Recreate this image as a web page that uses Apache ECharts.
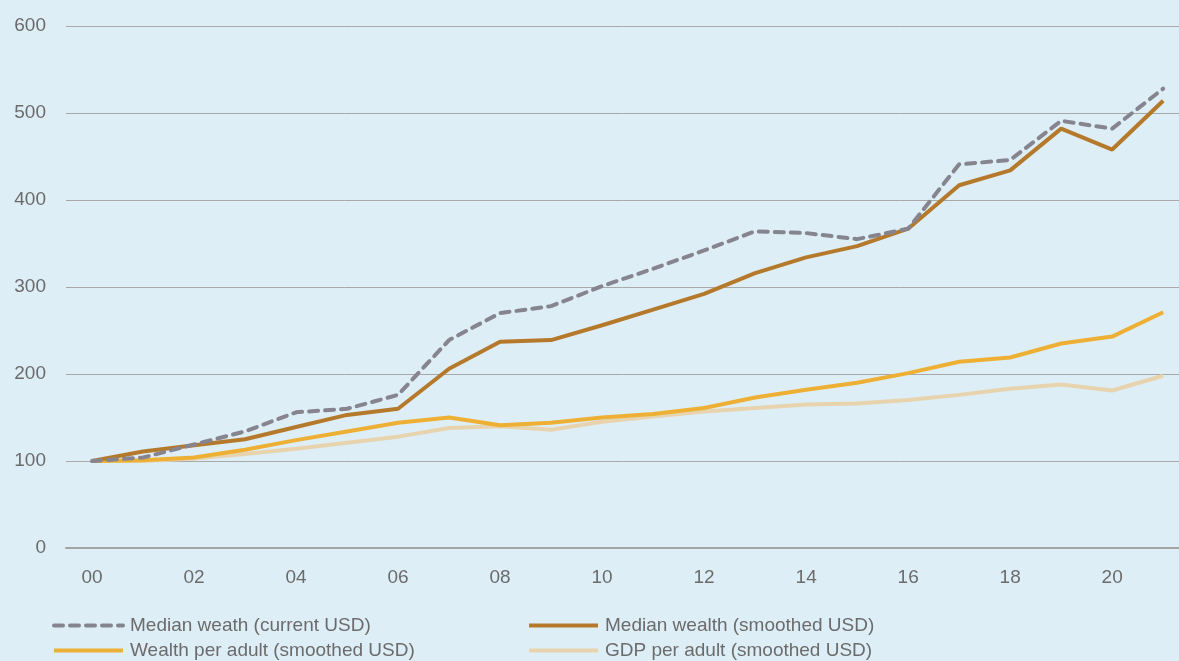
<!DOCTYPE html>
<html>
<head>
<meta charset="utf-8">
<script src="https://cdn.jsdelivr.net/npm/echarts@6/dist/echarts.min.js"></script>
<style>
  html, body { margin: 0; padding: 0; background: #deeef7; }
  #chart { width: 1179px; height: 661px; }
</style>
</head>
<body>
<div id="chart"></div>
<script>
// years 2000..2021, labelled as two digits
const years = ['00','01','02','03','04','05','06','07','08','09','10','11','12','13','14','15','16','17','18','19','20','21'];
const yTicks = [0, 100, 200, 300, 400, 500, 600];
const xLabelYears = [0, 2, 4, 6, 8, 10, 12, 14, 16, 18, 20];

const medianCurrent = [100, 104, 119, 134, 156, 160, 176, 239, 270, 278, 301, 321, 342, 364, 362, 355, 367, 441, 446, 491, 482, 528];
const medianSmoothed = [100, 111, 118, 125, 139, 153, 160, 206, 237, 239, 256, 274, 292, 316, 334, 347, 367, 417, 434, 482, 458, 514];
const wealthPerAdult = [100, 101, 104, 113, 124, 134, 144, 150, 141, 144, 150, 154, 161, 173, 182, 190, 201, 214, 219, 235, 243, 271];
const gdpPerAdult = [100, 100, 103, 108, 114, 121, 128, 138, 140, 136, 145, 151, 157, 161, 165, 166, 170, 176, 183, 188, 181, 198];

const names = ['Median weath (current USD)', 'Median wealth (smoothed USD)', 'Wealth per adult (smoothed USD)', 'GDP per adult (smoothed USD)'];

const chart = echarts.init(document.getElementById('chart'));
const font = 'Liberation Sans, Arial, sans-serif';
const textColor = '#6b6b6b';
const toPairs = arr => arr.map((v, i) => [i, v]);

function lineSeries(name, data, color, extra) {
    return Object.assign({
        name, type: 'line', data: toPairs(data),
        symbol: 'none', smooth: false,
        lineStyle: { color, width: 4 },
        itemStyle: { color },
        z: 2
    }, extra || {});
}

function legendAt(name, left, top) {
    return {
        data: [name], left, top, orient: 'horizontal', padding: 0,
        itemWidth: 69, itemHeight: 14, itemGap: 0,
        itemStyle: { opacity: 0 },
        lineStyle: { width: 4 },
        textStyle: { color: textColor, fontSize: 19, fontFamily: font, padding: [0, 0, 0, 2] },
        selectedMode: false
    };
}

chart.setOption({
    backgroundColor: '#deeef7',
    animation: false,
    grid: { left: 66, right: 0, top: 26, bottom: 113, containLabel: false },
    legend: [
        legendAt(names[0], 52, 616),
        legendAt(names[1], 527, 616),
        legendAt(names[2], 52, 641),
        legendAt(names[3], 527, 641)
    ],
    xAxis: {
        type: 'value', min: -0.51, max: 21.31,
        axisLine: { show: true, lineStyle: { color: '#a4a4a4', width: 2 } },
        axisTick: { show: false },
        splitLine: { show: false },
        axisLabel: {
            customValues: xLabelYears,
            formatter: v => years[v],
            color: textColor, fontSize: 19, fontFamily: font, margin: 20
        }
    },
    yAxis: {
        type: 'value', min: yTicks[0], max: yTicks[yTicks.length - 1], interval: 100,
        axisLine: { show: false }, axisTick: { show: false },
        axisLabel: { color: textColor, fontSize: 19, fontFamily: font, margin: 20 },
        splitLine: { lineStyle: { color: '#a8a8a8', width: 1 } }
    },
    series: [
        lineSeries(names[3], gdpPerAdult, '#e7d4ae'),
        lineSeries(names[2], wealthPerAdult, '#edb035'),
        lineSeries(names[1], medianSmoothed, '#b5792b'),
        lineSeries(names[0], medianCurrent, '#86848e', {
            lineStyle: { color: '#86848e', width: 4, type: [9, 7], cap: 'round' }
        })
    ]
});

window.onresize = () => chart.resize();
</script>
</body>
</html>
